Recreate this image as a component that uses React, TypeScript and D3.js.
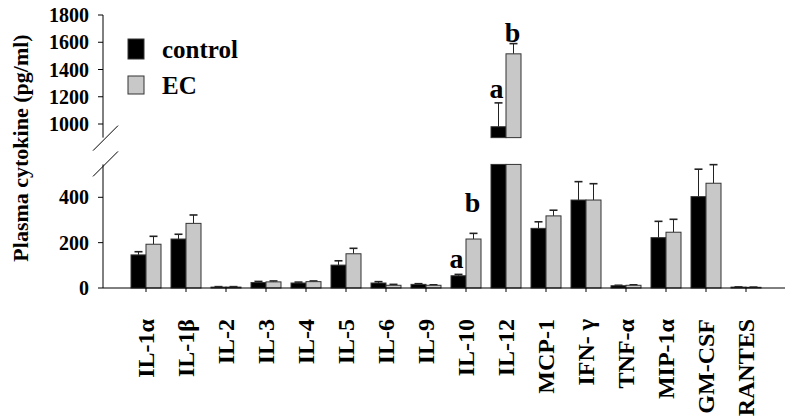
import * as d3 from 'd3';

const categories = ['IL-1α', 'IL-1β', 'IL-2', 'IL-3', 'IL-4', 'IL-5', 'IL-6', 'IL-9', 'IL-10', 'IL-12', 'MCP-1', 'IFN- γ', 'TNF-α', 'MIP-1α', 'GM-CSF', 'RANTES'];
const controlMean = [146, 216, 4, 24, 22, 101, 22, 16, 54, 980, 263, 388, 10, 222, 403, 4];
const controlErr = [14, 21, 2, 5, 4, 19, 6, 3, 6, 175, 29, 81, 2, 72, 121, 1];
const ecMean = [193, 285, 4, 27, 28, 151, 12, 12, 216, 1515, 318, 388, 12, 246, 462, 3];
const ecErr = [35, 37, 2, 4, 3, 24, 4, 2, 25, 75, 25, 72, 2, 57, 82, 1];
const lowerTicks = [0, 200, 400];
const upperTicks = [1000, 1200, 1400, 1600, 1800];
// significance marks: category, series, letter, height (data units)
const marks = [
  { cat: 'IL-10', s: 0, text: 'a', v: 88 },
  { cat: 'IL-10', s: 1, text: 'b', v: 335 },
  { cat: 'IL-12', s: 0, text: 'a', v: 1190 },
  { cat: 'IL-12', s: 1, text: 'b', v: 1600 },
];

const W = 795, H = 417;
const font = "'Times New Roman', 'Liberation Serif', serif";
const axisX = 103, baseY = 288;
const lowMax = 545, upMin = 900;

export default function App() {
  const x = d3.scaleBand<string>().domain(categories).range([126, 766]);
  const yLow = d3.scaleLinear().domain([0, 400]).range([baseY, 197.3]);
  const yUp = d3.scaleLinear().domain([1000, 1800]).range([124, 15]);
  const bw = 15;

  const series = [
    { mean: controlMean, err: controlErr, fill: '#000', off: -bw },
    { mean: ecMean, err: ecErr, fill: '#c8c8c8', off: 0 },
  ];

  const yOf = (v: number) => (v > upMin ? yUp(v) : yLow(Math.min(v, lowMax)));

  return (
    <svg width={W} height={H} style={{ position: 'absolute', left: 0, top: 0, fontFamily: font, fontWeight: 'bold' }}>
      <rect width={W} height={H} fill="#fff" />
      {/* bars */}
      {series.map((s, si) =>
        categories.map((c, i) => {
          const cx = x(c)! + x.bandwidth() / 2;
          const bx = cx + s.off;
          const v = s.mean[i];
          const top = v + s.err[i];
          const ex = bx + bw / 2;
          return (
            <g key={`${si}-${i}`}>
              <line x1={ex} x2={ex} y1={yOf(v)} y2={yOf(top)} stroke="#222" strokeWidth={1} />
              <line x1={ex - 4} x2={ex + 4} y1={yOf(top)} y2={yOf(top)} stroke="#222" strokeWidth={1.6} />
              <rect x={bx} width={bw} y={yLow(Math.min(v, lowMax))} height={baseY - yLow(Math.min(v, lowMax))}
                fill={s.fill} stroke="#333" strokeWidth={1} />
              {v > upMin && (
                <rect x={bx} width={bw} y={yUp(v)} height={yUp(upMin) - yUp(v)} fill={s.fill} stroke="#333" strokeWidth={1} />
              )}
            </g>
          );
        })
      )}
      {/* y axis */}
      <line x1={axisX} x2={axisX} y1={yUp(1800)} y2={yUp(upMin)} stroke="#000" />
      <line x1={axisX} x2={axisX} y1={yLow(lowMax)} y2={baseY} stroke="#000" />
      <line x1={axisX - 10} x2={axisX + 15} y1={yUp(upMin) + 13} y2={yUp(upMin) - 12} stroke="#000" />
      <line x1={axisX - 10} x2={axisX + 15} y1={yLow(lowMax) + 12} y2={yLow(lowMax) - 13} stroke="#000" />
      {lowerTicks.map((t) => (
        <g key={t} transform={`translate(0,${yLow(t)})`}>
          <line x1={axisX - 5} x2={axisX} stroke="#000" />
          <text x={axisX - 14} dy="0.35em" textAnchor="end" fontSize={20}>{t}</text>
        </g>
      ))}
      {upperTicks.map((t) => (
        <g key={t} transform={`translate(0,${yUp(t)})`}>
          <line x1={axisX - 5} x2={axisX} stroke="#000" />
          <text x={axisX - 14} dy="0.35em" textAnchor="end" fontSize={20}>{t}</text>
        </g>
      ))}
      <text transform="translate(28,148) rotate(-90)" textAnchor="middle" fontSize={22}>Plasma cytokine (pg/ml)</text>
      {/* x axis */}
      <line x1={axisX} x2={785} y1={baseY} y2={baseY} stroke="#000" />
      {categories.map((c) => {
        const cx = x(c)! + x.bandwidth() / 2;
        return (
          <g key={c}>
            <line x1={cx} x2={cx} y1={baseY} y2={baseY + 4} stroke="#000" />
            <text transform={`translate(${cx},319) rotate(-90)`} dy="0.35em" textAnchor="end" fontSize={24}>{c}</text>
          </g>
        );
      })}
      {/* significance letters */}
      {marks.map((m, i) => (
        <text key={i} x={x(m.cat)! + x.bandwidth() / 2 + (m.s === 0 ? -bw / 2 - 2 : bw / 2 - 1)} y={yOf(m.v)}
          textAnchor="middle" fontSize={28}>{m.text}</text>
      ))}
      {/* legend */}
      <rect x={128} y={39} width={16} height={20} fill="#000" stroke="#333" />
      <text x={162} y={58} fontSize={25}>control</text>
      <rect x={128} y={76} width={16} height={18} fill="#c8c8c8" stroke="#333" />
      <text x={162} y={94} fontSize={25}>EC</text>
    </svg>
  );
}
